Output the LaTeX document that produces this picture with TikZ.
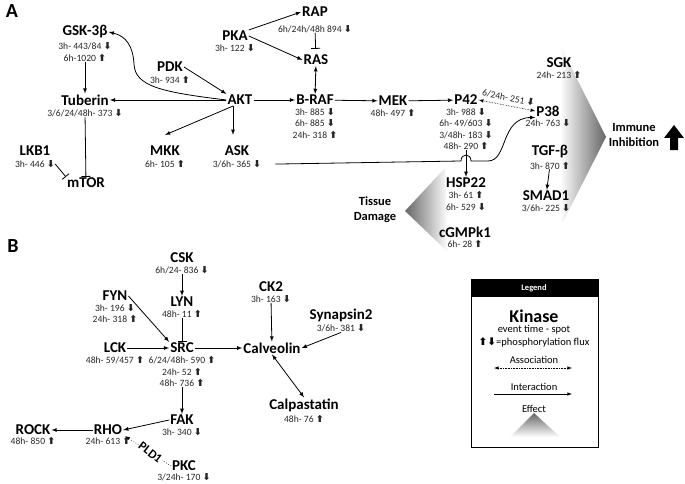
\documentclass[tikz,border=0pt]{standalone}
\usepackage{fontspec}
\setmainfont{Carlito}
\newfontfamily\arrowfont{DejaVu Sans}
\usepackage{tikz}
\usetikzlibrary{arrows,arrows.meta,calc,positioning,shapes}
\newcommand{\fup}{{\arrowfont\bfseries ⬆}}
\newcommand{\fdn}{{\arrowfont\bfseries ⬇}}
\tikzset{%
	panel/.style   = {font=\bfseries\fontsize{20}{20}\selectfont, inner sep=0pt},
	kinase/.style  = {font=\bfseries\fontsize{15}{15}\selectfont, inner sep=1pt},
	spot/.style    = {font=\fontsize{9.6}{11.5}\selectfont, text=black!85, align=center, inner sep=0pt},
	outcome/.style = {font=\bfseries\fontsize{12.5}{15}\selectfont, align=center},
	legtxt/.style  = {font=\fontsize{10.5}{12}\selectfont, inner sep=0pt},
	arrow/.style   = {thick,-latex},
	both/.style    = {thick,latex-latex},
	inhibit/.style = {thick,-{Bar[width=9pt]}},
	assoc/.style   = {semithick,densely dotted,latex-latex},
}
\begin{document}
\begin{tikzpicture}[x=1pt,y=-1pt]
	\useasboundingbox (0,0) rectangle (685,484);
	
	% effect shapes
	\shade[left color=white, right color=black!60] (560,45) -- (606,137) -- (560,228) -- cycle;
	\shade[left color=black!60, right color=white] (405,211) -- (445,168) -- (448,252) -- cycle;
	
	% panel A
	\node[panel] (pa) at (12,11) {A};
	\node[kinase] (gsk) at (85,32) {GSK-3β};
	\node[spot, below=3pt of gsk] (gsk-s) {3h- 443/84 \fdn\\6h-1020 \fup};
	\node[kinase] (tub) at (85,100) {Tuberin};
	\node[spot, below=3pt of tub] (tub-s) {3/6/24/48h- 373 \fdn};
	\node[kinase] (lkb) at (35,151) {LKB1};
	\node[spot, below=3pt of lkb] (lkb-s) {3h- 446 \fdn};
	\node[kinase] (mtor) at (86,183) {mTOR};
	\node[kinase] (pdk) at (170,67) {PDK};
	\node[spot, below=3pt of pdk] (pdk-s) {3h- 934 \fup};
	\node[kinase] (akt) at (240,100) {AKT};
	\node[kinase] (mkk) at (165,151) {MKK};
	\node[spot, below=3pt of mkk] (mkk-s) {6h- 105 \fup};
	\node[kinase] (ask) at (237,151) {ASK};
	\node[spot, below=3pt of ask] (ask-s) {3/6h- 365 \fdn};
	\node[kinase] (pka) at (235,36) {PKA};
	\node[spot, below=2pt of pka] (pka-s) {3h- 122 \fdn};
	\node[kinase] (rap) at (315,12) {RAP};
	\node[spot, below=7pt of rap] (rap-s) {6h/24h/48h 894 \fdn};
	\node[kinase] (ras) at (316,60) {RAS};
	\node[kinase] (braf) at (315,100) {B-RAF};
	\node[spot, below=2pt of braf] (braf-s) {3h- 885 \fdn\\6h- 885 \fdn\\24h- 318 \fup};
	\node[kinase] (mek) at (393,101) {MEK};
	\node[spot, below=2pt of mek] (mek-s) {48h- 497 \fup};
	\node[kinase] (p42) at (466,100) {P42};
	\node[spot, below=2pt of p42] (p42-s) {3h- 988 \fdn\\6h- 49/603 \fdn\\3/48h- 183 \fdn\\48h- 290 \fup};
	\node[kinase] (p38) at (548,111) {P38};
	\node[spot, below=2pt of p38] (p38-s) {24h- 763 \fdn};
	\node[kinase] (sgk) at (559,63) {SGK};
	\node[spot, below=2pt of sgk] (sgk-s) {24h- 213 \fup};
	\node[kinase] (tgf) at (550,152) {TGF-β};
	\node[spot, below=2pt of tgf] (tgf-s) {3h- 870 \fup};
	\node[kinase] (smad) at (546,196) {SMAD1};
	\node[spot, below=2pt of smad] (smad-s) {3/6h- 225 \fdn};
	\node[kinase] (hsp) at (466,183) {HSP22};
	\node[spot, below=2pt of hsp] (hsp-s) {3h- 61 \fup\\6h- 529 \fdn};
	\node[kinase] (cgmp) at (465,232) {cGMPk1};
	\node[spot, below=2pt of cgmp] (cgmp-s) {6h- 28 \fup};
	\node[outcome] (imm) at (634,135) {Immune\\Inhibition};
	\node[outcome] (tis) at (375,210) {Tissue\\Damage};
	\fill (670,150) -- (670,138) -- (664,138) -- (674,125) -- (684,138) -- (678,138) -- (678,150) -- cycle;  % up
	
	\coordinate (aktb) at ($(akt.south)+(-7,0)$);
	\draw[arrow] (gsk-s) -- (tub);
	\draw[inhibit] (tub-s) -- (mtor);
	\draw[inhibit] (lkb-s.east) -- (mtor.north west);
	\draw[arrow] (akt) -- (tub);
	\draw[arrow] (akt.west) .. controls (160,92) and (135,86) .. (134,64) .. controls (133,46) and (126,36) .. (gsk.east);
	\draw[arrow] (pdk.east) -- (akt.north west);
	\draw[arrow] (aktb) -- ([yshift=10pt]mkk.north);
	\draw[arrow,shorten >=10pt] (aktb) -- (aktb |- ask.north);
	\draw[arrow] (akt) -- (braf);
	\draw[arrow] (pka.north east) -- (rap.west);
	\draw[arrow] (pka.east) -- (ras.west);
	\draw[inhibit,shorten >=5pt] (rap-s) -- (ras);
	\draw[both] (ras) -- (braf);
	\draw[arrow] (braf) -- (mek);
	\draw[arrow] (mek) -- (p42);
	\draw[assoc] (p42.east) -- (p38.west) node[midway, above=4pt, sloped, spot] {6/24h- 251 \fdn};
	\draw[arrow] (p42-s) -- (hsp);
	\draw[arrow] (ask-s.east) ++(14,0) -- (461,161) .. controls (461,153) and (471,153) .. (471,161) -- (488,161) .. controls (508,161) and (500,118) .. (p38.south west);
	\draw[arrow] (tgf-s) -- (smad);
	
	% panel B
	\node[panel] (pb) at (13,246) {B};
	\node[kinase] (csk) at (182,258) {CSK};
	\node[spot, below=2pt of csk] (csk-s) {6h/24- 836 \fdn};
	\node[kinase] (lyn) at (182,302) {LYN};
	\node[spot, below=2pt of lyn] (lyn-s) {48h- 11 \fup};
	\node[kinase] (fyn) at (115,296) {FYN};
	\node[spot, below=2pt of fyn] (fyn-s) {3h- 196 \fdn\\24h- 318 \fup};
	\node[kinase] (lck) at (115,348) {LCK};
	\node[spot, below=2pt of lck] (lck-s) {48h- 59/457 \fup};
	\node[kinase] (src) at (182,348) {SRC};
	\node[spot, below=2pt of src] (src-s) {6/24/48h- 590 \fup\\24h- 52 \fup\\48h- 736 \fup};
	\node[kinase] (fak) at (182,420) {FAK};
	\node[spot, below=2pt of fak] (fak-s) {3h- 340 \fdn};
	\node[kinase] (rho) at (108,430) {RHO};
	\node[spot, below=1pt of rho] (rho-s) {24h- 613 \fup};
	\node[kinase] (rock) at (33,430) {ROCK};
	\node[spot, below=1pt of rock] (rock-s) {48h- 850 \fup};
	\node[kinase] (pkc) at (184,466) {PKC};
	\node[spot, below=1pt of pkc] (pkc-s) {3/24h- 170 \fdn};
	\node[kinase] (ck2) at (271,287) {CK2};
	\node[spot, below=2pt of ck2] (ck2-s) {3h- 163 \fdn};
	\node[kinase] (calv) at (272,348) {Calveolin};
	\node[kinase] (syn) at (341,315) {Synapsin2};
	\node[spot, below=2pt of syn] (syn-s) {3/6h- 381 \fdn};
	\node[kinase] (calp) at (304,405) {Calpastatin};
	\node[spot, below=2pt of calp] (calp-s) {48h- 76 \fup};
	
	\draw[arrow] (csk-s) -- (lyn);
	\draw[inhibit] (lyn-s) -- (src);
	\draw[arrow] (fyn.east) -- (src.north west);
	\draw[arrow] (lck) -- (src);
	\draw[arrow] (src) -- (calv);
	\draw[arrow] (ck2-s) -- (calv);
	\draw[arrow] (syn-s.south) -- (calv.east);
	\draw[both] (calv.south) -- (calp.north);
	\draw[arrow] (src-s) -- (fak);
	\draw[arrow] (fak.west) -- (rho.east);
	\draw[arrow] (rho) -- (rock);
	\draw[semithick,dotted,-latex] (pkc.west) -- ([xshift=2pt]rho.south east) node[pos=0.45, rotate=-38, fill=white, inner sep=1pt, font=\bfseries\fontsize{12.5}{12.5}\selectfont] {PLD1};
	
	% legend
	\draw[thick] (471,279) rectangle (598,447);
	\fill (471,279) rectangle (598,297);
	\node[text=white, font=\bfseries\fontsize{8.5}{10}\selectfont] (leg) at (534,288) {Legend};
	\node[kinase, font=\bfseries\fontsize{18}{18}\selectfont] (lkin) at (534,316) {Kinase};
	\node[legtxt] (lev) at (534,330) {event time - spot};
	\node[legtxt] (lflux) at (534,342) {\fup\fdn=phosphorylation flux};
	\node[legtxt] (lass) at (534,360) {Association};
	\coordinate (as1) at (494,368);
	\coordinate (as2) at (572,368);
	\draw[assoc] (as1) -- (as2);
	\node[legtxt] (lint) at (534,387) {Interaction};
	\coordinate (in1) at (494,394);
	\coordinate (in2) at (572,394);
	\draw[semithick,-latex] (in1) -- (in2);
	\node[legtxt] (leff) at (534,409) {Effect};
	\shade[top color=black!60, bottom color=white] (510,437) -- (534,413) -- (560,437) -- cycle;
	
\end{tikzpicture}
\end{document}
